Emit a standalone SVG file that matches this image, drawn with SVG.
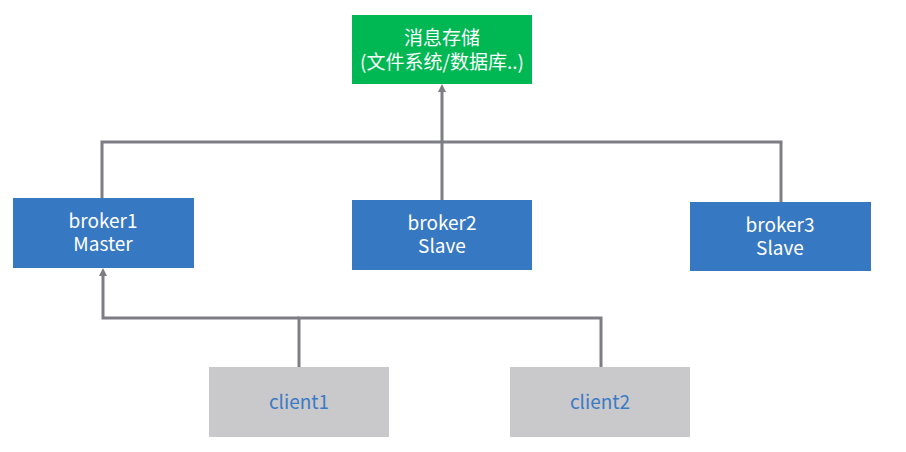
<svg xmlns="http://www.w3.org/2000/svg" width="906" height="452" viewBox="0 0 906 452">
<style>
.lbl{font-family:"Noto Sans CJK SC","Noto Sans",sans-serif;font-size:19px;text-anchor:middle}
.w{fill:#ffffff}
.c{fill:#3B7BC6}
.conn{fill:none;stroke:#7D7D85;stroke-width:3}
</style>
<defs>
<marker id="arr" markerWidth="8" markerHeight="8" refX="4" refY="4" orient="auto" markerUnits="userSpaceOnUse">
<path d="M0,0 L8,4 L0,8 z" fill="#7D7D85"/>
</marker>
</defs>
<rect width="906" height="452" fill="#ffffff"/>
<g id="connectors">
<path class="conn" d="M102,198 V142 H781 V202"/>
<path class="conn" d="M442,200 V142"/>
<path class="conn" d="M442,142 V88" marker-end="url(#arr)"/>
<path class="conn" d="M299,367 V318 H601 V367"/>
<path class="conn" d="M299,318 H103 V272" marker-end="url(#arr)"/>
</g>
<g id="storage">
<rect x="352" y="15" width="180" height="69" fill="#00B853"/>
<text class="lbl w" x="442" y="45">消息存储</text>
<text class="lbl w" x="442" y="69">(文件系统/数据库..)</text>
</g>
<g id="broker1">
<rect x="13" y="198" width="181" height="70" fill="#3778C3"/>
<text class="lbl w" x="103" y="228">broker1</text>
<text class="lbl w" x="103" y="251">Master</text>
</g>
<g id="broker2">
<rect x="352" y="200" width="180" height="70" fill="#3778C3"/>
<text class="lbl w" x="442" y="230">broker2</text>
<text class="lbl w" x="442" y="253">Slave</text>
</g>
<g id="broker3">
<rect x="690" y="202" width="181" height="69" fill="#3778C3"/>
<text class="lbl w" x="780" y="232">broker3</text>
<text class="lbl w" x="780" y="255">Slave</text>
</g>
<g id="client1">
<rect x="209" y="367" width="180" height="70" fill="#C9C8CA"/>
<text class="lbl c" x="299" y="409">client1</text>
</g>
<g id="client2">
<rect x="510" y="367" width="180" height="70" fill="#C9C8CA"/>
<text class="lbl c" x="600" y="409">client2</text>
</g>
</svg>
